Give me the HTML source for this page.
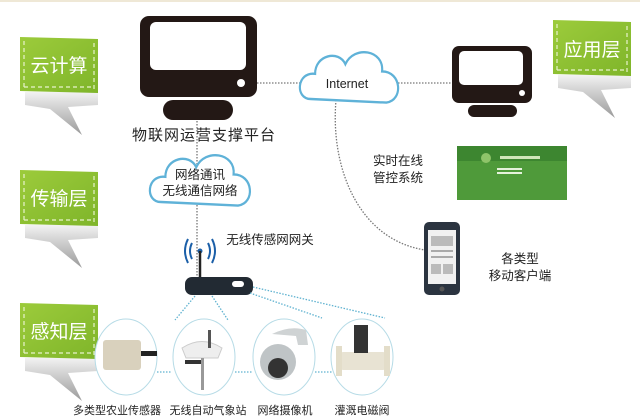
<!DOCTYPE html>
<html><head><meta charset="utf-8"><style>
html,body{margin:0;padding:0;background:#fff;}
svg{display:block;font-family:"Liberation Sans","Noto Sans CJK SC",sans-serif;}
</style></head><body>
<svg width="640" height="417" viewBox="0 0 640 417" xmlns="http://www.w3.org/2000/svg">
<defs>
<linearGradient id="g" x1="0" y1="0" x2="1" y2="1"><stop offset="0" stop-color="#9ccb3b"/><stop offset="1" stop-color="#7fb52a"/></linearGradient>
<linearGradient id="r" x1="0" y1="0" x2="0" y2="1"><stop offset="0" stop-color="#f2f2f2"/><stop offset="1" stop-color="#9a9a9a"/></linearGradient>
<g id="tag">
<path d="M5 55 L78 55 L78 68 L48 70 L62 98 L30 72 L5 68 Z" fill="url(#r)"/>
<path d="M0 0 L78 2 L78 56 L0 54 Z" fill="url(#g)"/>
<path d="M4 4 V50 M74 6 V52 M4 50 H74" stroke="#e8f3cc" stroke-width="1.2" stroke-dasharray="4 3" fill="none"/>
</g>
<g id="cloud">
<path d="M10 45 C-5 45 -3 22 14 24 C14 8 36 4 42 16 C50 0 78 4 76 22 C94 22 96 46 80 48 Z" fill="#fff" stroke="#5fb2d8" stroke-width="2"/>
</g>
</defs>
<line x1="0" y1="1" x2="640" y2="1" stroke="#efe8d6" stroke-width="2"/>

<use href="#tag" x="20" y="37"/>
<use href="#tag" x="20" y="170"/>
<use href="#tag" x="20" y="303"/>
<use href="#tag" x="553" y="20"/>
<g fill="#fff" font-size="19" text-anchor="middle">
<text x="59" y="72">云计算</text>
<text x="59" y="205">传输层</text>
<text x="59" y="338">感知层</text>
<text x="592" y="56">应用层</text>
</g>

<g stroke="#777" stroke-width="1.3" stroke-dasharray="1.5 1.5" fill="none">
<line x1="257" y1="83" x2="302" y2="83"/>
<line x1="392" y1="83" x2="452" y2="83"/>
<line x1="197" y1="118" x2="197" y2="285"/>
<path d="M336 100 C330 170 360 240 425 250"/>
</g>

<rect x="140" y="16" width="117" height="81" rx="9" fill="#231815"/>
<rect x="150" y="22" width="96" height="48" rx="6" fill="#fff"/>
<circle cx="241" cy="83" r="4" fill="#fff"/>
<rect x="163" y="100" width="70" height="20" rx="10" fill="#231815"/>
<text x="204" y="140" font-size="15" text-anchor="middle" fill="#222" letter-spacing="1">物联网运营支撑平台</text>

<g transform="translate(150,148) scale(1.1,1.2)"><use href="#cloud"/></g>
<text x="200" y="179" font-size="12.5" text-anchor="middle" fill="#222">网络通讯</text>
<text x="200" y="195" font-size="12.5" text-anchor="middle" fill="#222">无线通信网络</text>

<g transform="translate(300,45) scale(1.08,1.2)"><use href="#cloud"/></g>
<text x="347" y="88" font-size="12.5" text-anchor="middle" fill="#222">Internet</text>

<rect x="452" y="46" width="80" height="57" rx="7" fill="#231815"/>
<rect x="459" y="51" width="64" height="34" rx="5" fill="#fff"/>
<circle cx="522" cy="93" r="3" fill="#fff"/>
<rect x="468" y="105" width="49" height="12" rx="6" fill="#231815"/>

<text x="398" y="165" font-size="12.5" text-anchor="middle" fill="#222">实时在线</text>
<text x="398" y="182" font-size="12.5" text-anchor="middle" fill="#222">管控系统</text>
<rect x="457" y="146" width="110" height="54" fill="#4f9a3a"/>
<rect x="457" y="146" width="110" height="15" fill="#3d8630"/>
<circle cx="486" cy="158" r="5" fill="#8fc46a"/>
<rect x="500" y="156" width="40" height="3" fill="#cfe6b8"/>
<rect x="497" y="168" width="25" height="2" fill="#e6f2dc"/>
<rect x="497" y="172" width="25" height="2" fill="#e6f2dc"/>

<rect x="424" y="222" width="36" height="73" rx="5" fill="#2b3440"/>
<rect x="428" y="230" width="28" height="54" fill="#f1f1f1"/>
<rect x="431" y="236" width="22" height="10" fill="#bbb"/>
<rect x="431" y="250" width="22" height="2" fill="#aaa"/>
<rect x="431" y="256" width="22" height="2" fill="#aaa"/>
<rect x="431" y="264" width="10" height="10" fill="#bbb"/>
<rect x="443" y="264" width="10" height="10" fill="#bbb"/>
<circle cx="442" cy="289" r="2.5" fill="#555"/>
<text x="520" y="263" font-size="12.5" text-anchor="middle" fill="#222">各类型</text>
<text x="520" y="280" font-size="12.5" text-anchor="middle" fill="#222">移动客户端</text>

<g stroke="#1b5fa8" stroke-width="2" fill="none">
<path d="M192 243 Q188 251 192 259"/><path d="M188 239 Q182 251 188 263"/>
<path d="M208 243 Q212 251 208 259"/><path d="M212 239 Q218 251 212 263"/>
</g>
<circle cx="200" cy="251" r="2.5" fill="#1b5fa8"/>
<line x1="200" y1="251" x2="200" y2="279" stroke="#222" stroke-width="2.5"/>
<rect x="185" y="277" width="68" height="18" rx="7" fill="#222a33"/>
<rect x="232" y="281" width="12" height="6" rx="3" fill="#fff"/>
<text x="270" y="244" font-size="12.5" text-anchor="middle" fill="#222">无线传感网网关</text>

<g stroke="#5fb2d0" stroke-width="1.3" stroke-dasharray="1.5 1.5" fill="none">
<line x1="195" y1="296" x2="175" y2="320"/>
<line x1="212" y1="296" x2="228" y2="320"/>
<line x1="250" y1="293" x2="322" y2="318"/>
<line x1="253" y1="287" x2="385" y2="318"/>
<line x1="157" y1="372" x2="172" y2="372"/>
<line x1="235" y1="372" x2="253" y2="372"/>
<line x1="315" y1="372" x2="332" y2="372"/>
</g>

<g fill="#fff" stroke="#b6dbe6" stroke-width="1">
<ellipse cx="126" cy="357" rx="31" ry="38"/>
<ellipse cx="204" cy="357" rx="31" ry="38"/>
<ellipse cx="284" cy="357" rx="31" ry="38"/>
<ellipse cx="362" cy="357" rx="31" ry="38"/>
</g>
<rect x="103" y="340" width="38" height="30" rx="3" fill="#d9d1bd"/>
<rect x="141" y="351" width="16" height="5" fill="#222"/>
<path d="M182 348 Q202 335 222 348 L218 358 L186 358 Z" fill="#eee" stroke="#ccc"/>
<rect x="201" y="358" width="3" height="32" fill="#999"/>
<rect x="208" y="330" width="3" height="18" fill="#555"/>
<rect x="185" y="360" width="16" height="4" fill="#333"/>
<path d="M272 334 Q290 325 306 330 L308 345 L298 345 L296 336 Z" fill="#cfd3d4"/>
<circle cx="278" cy="362" r="18" fill="#bfc4c6"/>
<circle cx="278" cy="368" r="10" fill="#333"/>
<rect x="340" y="352" width="46" height="18" rx="3" fill="#e8e3d3"/>
<rect x="336" y="346" width="6" height="30" fill="#e3ddc9"/>
<rect x="384" y="346" width="6" height="30" fill="#e3ddc9"/>
<rect x="354" y="325" width="14" height="28" fill="#333"/>

<g font-size="11" text-anchor="middle" fill="#222">
<text x="117" y="414">多类型农业传感器</text>
<text x="208" y="414">无线自动气象站</text>
<text x="285" y="414">网络摄像机</text>
<text x="362" y="414">灌溉电磁阀</text>
</g>
</svg>
</body></html>
